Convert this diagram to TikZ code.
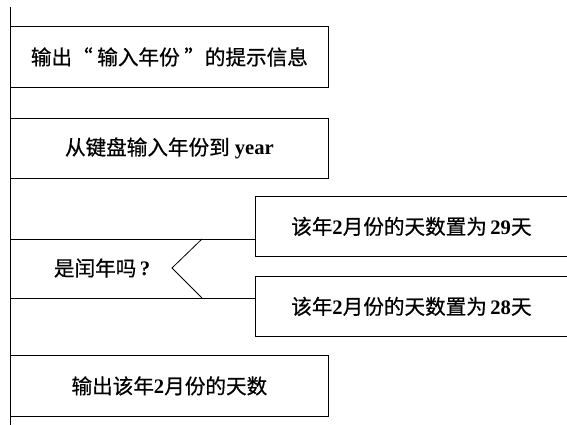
\documentclass[tikz,border=0pt]{standalone}
\usepackage{fontspec}
\setmainfont{Liberation Serif}
\newfontfamily\cjk[FakeBold=0.6]{Noto Sans CJK SC}
\begin{document}
\begin{tikzpicture}[x=1pt,y=-1pt,line width=0.8pt,
  txt/.style={font=\fontsize{20.6}{24}\selectfont\bfseries, inner sep=0pt},
  box/.style={txt, draw, rectangle, anchor=north west, minimum width=318pt, minimum height=61pt},
  obox/.style={txt, rectangle, anchor=north west, minimum width=312pt, minimum height=60pt}]
\useasboundingbox (0,0) rectangle (567,425);
\fill[white] (0,0) rectangle (567,425);
\coordinate (top) at (10,7);
\coordinate (bot) at (10,425);
\draw (top) -- (bot);
\node[box] (b1) at (10,26) {{\cjk\mdseries 输出“ 输入年份 ”的提示信息}};
\node[box, minimum height=60pt] (b2) at (10,118) {{\cjk\mdseries 从键盘输入年份到} year};
\node[obox] (b29) at (255,196) {{\cjk\mdseries 该年}2{\cjk\mdseries 月份的天数置为}\,29{\cjk\mdseries 天}};
\node[obox] (b28) at (255,276) {{\cjk\mdseries 该年}2{\cjk\mdseries 月份的天数置为}\,28{\cjk\mdseries 天}};
\draw (b29.north east) -- (b29.north west) -- (b29.south west) -- (b29.south east);
\draw (b28.north east) -- (b28.north west) -- (b28.south west) -- (b28.south east);
\node[txt] (dec) at (102,268) {{\cjk\mdseries 是闰年吗}\,?};
\coordinate (d1) at (10,239);
\coordinate (d2) at (10,298);
\coordinate (c1) at (202,239);
\coordinate (tip) at (172,268);
\coordinate (c2) at (202,298);
\draw (d1) -- (b29.west |- d1);
\draw (d2) -- (b28.west |- d2);
\draw (c1) -- (tip) -- (c2);
\node[box] (b4) at (10,355) {{\cjk\mdseries 输出该年}2{\cjk\mdseries 月份的天数}};
\end{tikzpicture}
\end{document}
